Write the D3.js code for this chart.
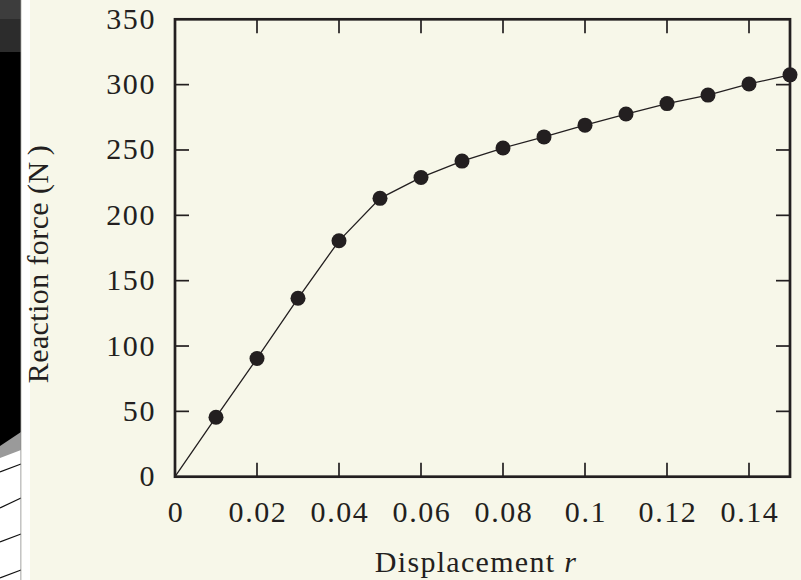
<!DOCTYPE html>
<html>
<head>
<meta charset="utf-8">
<script src="https://cdn.jsdelivr.net/npm/d3@7"></script>
<style>
  html, body { margin: 0; padding: 0; background: #f7f7e9; }
  svg { display: block; }
</style>
</head>
<body>
<svg id="drawing_region"></svg>
<script>
// displacement r and reaction force (N)
const displacement = [0, 0.01, 0.02, 0.03, 0.04, 0.05, 0.06, 0.07, 0.08, 0.09, 0.10, 0.11, 0.12, 0.13, 0.14, 0.15];
const force        = [0, 45.5, 90.5, 136.5, 180.5, 213, 229, 241.5, 251.5, 260, 269, 277.5, 285.5, 292, 300.5, 307.5];
const xTicks = [0, 0.02, 0.04, 0.06, 0.08, 0.1, 0.12, 0.14];
const yTicks = [0, 50, 100, 150, 200, 250, 300, 350];

const width = 801, height = 580;
const margin = { top: 19.3, right: 11, bottom: 103.3, left: 175 };
const ink = '#231f20';
const font = '"Tinos", "Times"';

const svg = d3.select('#drawing_region')
    .attr('width', width)
    .attr('height', height);

// clipped piece of the neighbouring figure on the left edge
const side = svg.append('g');
side.append('rect').attr('x', 0).attr('y', 0).attr('width', 21).attr('height', height).attr('fill', '#000');
side.append('rect').attr('x', 0).attr('y', 0).attr('width', 21).attr('height', 19).attr('fill', '#3d3d3d');
side.append('rect').attr('x', 0).attr('y', 19).attr('width', 21).attr('height', 33).attr('fill', '#2c2c2c');
side.append('polygon').attr('points', '0,446 21,432 21,580 0,580').attr('fill', '#9a9a9a');
side.append('polygon').attr('points', '0,458 21,450 21,580 0,580').attr('fill', '#fff');
[[472, 464], [508, 498], [542, 534], [578, 570]].forEach(p => {
    side.append('line').attr('x1', 0).attr('y1', p[0]).attr('x2', 21).attr('y2', p[1])
        .attr('stroke', '#111').attr('stroke-width', 1.2);
});
side.append('line').attr('x1', 21).attr('y1', 0).attr('x2', 21).attr('y2', height)
    .attr('stroke', '#888').attr('stroke-width', 1);
side.append('rect').attr('x', 21.5).attr('y', 0).attr('width', 8.5).attr('height', height).attr('fill', '#fff');

const iw = width - margin.left - margin.right;
const ih = height - margin.top - margin.bottom;

const x = d3.scaleLinear().domain([0, 0.15]).range([0, iw]);
const y = d3.scaleLinear().domain([0, 350]).range([ih, 0]);

const g = svg.append('g').attr('transform', `translate(${margin.left},${margin.top})`);

// inward ticks on all four sides
const tickLen = 14;
g.selectAll('.xt').data(xTicks.slice(1)).enter().append('g').each(function(d) {
    const s = d3.select(this);
    s.append('line').attr('x1', x(d)).attr('x2', x(d)).attr('y1', ih).attr('y2', ih - tickLen);
    s.append('line').attr('x1', x(d)).attr('x2', x(d)).attr('y1', 0).attr('y2', tickLen);
}).attr('stroke', ink).attr('stroke-width', 1.7);

g.selectAll('.yt').data(yTicks.slice(1, -1)).enter().append('g').each(function(d) {
    const s = d3.select(this);
    s.append('line').attr('x1', 0).attr('x2', tickLen).attr('y1', y(d)).attr('y2', y(d));
    s.append('line').attr('x1', iw).attr('x2', iw - tickLen).attr('y1', y(d)).attr('y2', y(d));
}).attr('stroke', ink).attr('stroke-width', 1.7);

// tick labels
g.selectAll('.xl').data(xTicks).enter().append('text')
    .attr('x', d => x(d) + 1)
    .attr('y', ih + 45)
    .attr('text-anchor', 'middle')
    .attr('fill', ink)
    .style('font-family', font)
    .style('font-size', '30px')
    .style('letter-spacing', '1.6px')
    .text(d => d3.format('~g')(d));

g.selectAll('.yl').data(yTicks).enter().append('text')
    .attr('x', -19)
    .attr('y', d => y(d) + 9.5)
    .attr('text-anchor', 'end')
    .attr('fill', ink)
    .style('font-family', font)
    .style('font-size', '30px')
    .style('letter-spacing', '1.6px')
    .text(d => d);

// axis titles
const xt = svg.append('text')
    .attr('x', 476)
    .attr('y', 572)
    .attr('text-anchor', 'middle')
    .attr('fill', ink)
    .style('font-family', font)
    .style('font-size', '30px')
    .style('letter-spacing', '1.3px');
xt.append('tspan').text('Displacement ');
xt.append('tspan').style('font-style', 'italic').text('r');

svg.append('text')
    .attr('transform', 'translate(48,264) rotate(-90)')
    .attr('text-anchor', 'middle')
    .attr('fill', ink)
    .style('font-family', font)
    .style('font-size', '30px')
    .style('letter-spacing', '0.4px')
    .text('Reaction force (N\u2009)');

// data line and markers
const pts = displacement.map((d, i) => ({ r: d, f: force[i] }));

g.append('path')
    .datum(pts)
    .attr('fill', 'none')
    .attr('stroke', ink)
    .attr('stroke-width', 1.3)
    .attr('d', d3.line().x(d => x(d.r)).y(d => y(d.f)));

// frame
g.append('rect')
    .attr('x', 0).attr('y', 0).attr('width', iw).attr('height', ih)
    .attr('fill', 'none').attr('stroke', ink).attr('stroke-width', 2.7);

g.selectAll('.dot').data(pts.slice(1)).enter().append('circle')
    .attr('cx', d => x(d.r))
    .attr('cy', d => y(d.f))
    .attr('r', 7.5)
    .attr('fill', ink);
</script>
</body>
</html>
